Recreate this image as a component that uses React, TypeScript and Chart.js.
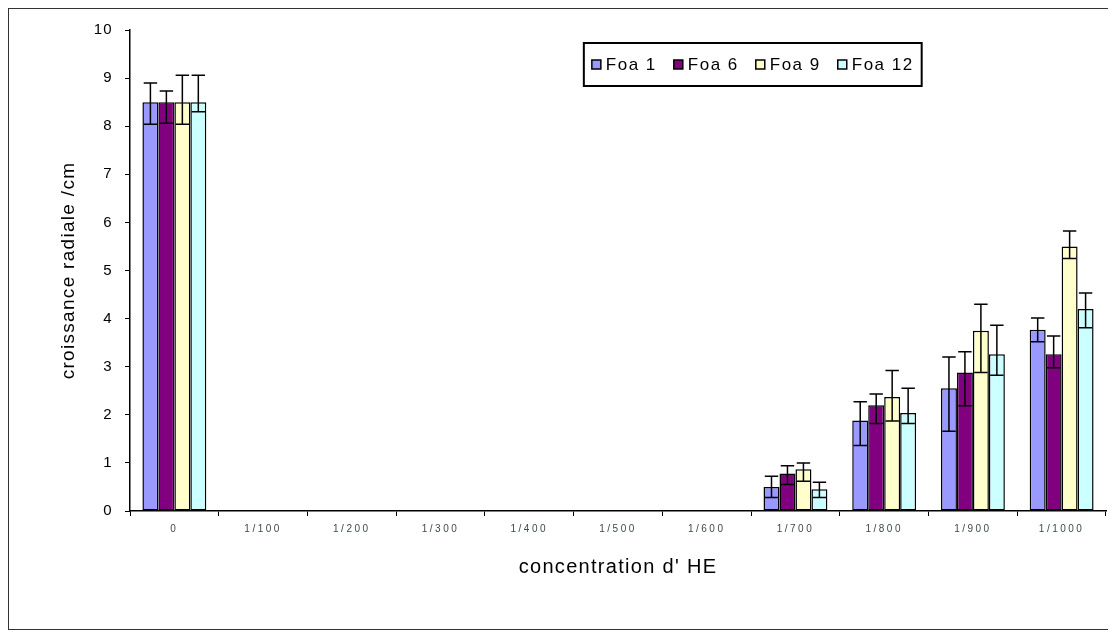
import React, { useEffect, useRef } from 'react';
import { Chart, registerables, CategoryScale } from 'chart.js';

Chart.register(...registerables);

const FONT = "'Liberation Sans', Arial, sans-serif";

const categories = ['0', '1/100', '1/200', '1/300', '1/400', '1/500', '1/600', '1/700', '1/800', '1/900', '1/1000'];
const seriesNames = ['Foa 1', 'Foa 6', 'Foa 9', 'Foa 12'];
const seriesColors = ['#9999FF', '#800080', '#FFFFCC', '#CCFFFF'];

const foa1 = [8.5, 0, 0, 0, 0, 0, 0, 0.5, 1.88, 2.55, 3.77];
const foa1Hi = [8.9, null, null, null, null, null, null, 0.72, 2.27, 3.2, 4.01];
const foa1Lo = [8.04, null, null, null, null, null, null, 0.28, 1.36, 1.66, 3.52];

const foa6 = [8.5, 0, 0, 0, 0, 0, 0, 0.78, 2.2, 2.88, 3.26];
const foa6Hi = [8.73, null, null, null, null, null, null, 0.94, 2.43, 3.31, 3.64];
const foa6Lo = [8.06, null, null, null, null, null, null, 0.55, 1.82, 2.19, 2.98];

const foa9 = [8.5, 0, 0, 0, 0, 0, 0, 0.87, 2.37, 3.75, 5.5];
const foa9Hi = [9.06, null, null, null, null, null, null, 1.0, 2.92, 4.3, 5.82];
const foa9Lo = [8.04, null, null, null, null, null, null, 0.62, 1.87, 2.88, 5.25];

const foa12 = [8.5, 0, 0, 0, 0, 0, 0, 0.45, 2.04, 3.26, 4.2];
const foa12Hi = [9.06, null, null, null, null, null, null, 0.6, 2.55, 3.86, 4.53];
const foa12Lo = [8.3, null, null, null, null, null, null, 0.28, 1.82, 2.82, 3.81];

const yTicks = [0, 1, 2, 3, 4, 5, 6, 7, 8, 9, 10];
const xTitle = "concentration d' HE";
const yTitle = 'croissance radiale /cm';

// x tick labels are widely letter-spaced in the reference
const origDrawLabels = (CategoryScale.prototype as any).drawLabels;
(CategoryScale.prototype as any).drawLabels = function (area: any) {
  const ctx = this.ctx;
  const prev = ctx.letterSpacing;
  ctx.letterSpacing = '2.5px';
  origDrawLabels.call(this, area);
  ctx.letterSpacing = prev;
};

const spacingPlugin = {
  id: 'spacing',
  beforeDraw(chart: any) {
    chart.ctx.letterSpacing = '1.3px';
  },
};

const errorBars = {
  id: 'errorBars',
  afterDatasetsDraw(chart: any) {
    const ctx = chart.ctx;
    const y = chart.scales.y;
    chart.data.datasets.forEach((ds: any, i: number) => {
      const meta = chart.getDatasetMeta(i);
      meta.data.forEach((bar: any, j: number) => {
        const hi = ds.errHi[j];
        const lo = ds.errLo[j];
        if (hi == null || lo == null) return;
        const { x, width } = bar.getProps(['x', 'width'], true);
        const yh = y.getPixelForValue(hi);
        const yl = y.getPixelForValue(lo);
        const half = width * 0.42;
        ctx.save();
        ctx.strokeStyle = '#000';
        ctx.lineWidth = 1.5;
        ctx.beginPath();
        ctx.moveTo(x, yh);
        ctx.lineTo(x, yl);
        ctx.moveTo(x - half, yh);
        ctx.lineTo(x + half, yh);
        ctx.moveTo(x - half, yl);
        ctx.lineTo(x + half, yl);
        ctx.stroke();
        ctx.restore();
      });
    });
  },
};

const legendBox = {
  id: 'legendBox',
  afterDraw(chart: any) {
    const { ctx, chartArea } = chart;
    ctx.save();
    ctx.font = `17px ${FONT}`;
    ctx.letterSpacing = '1.5px';
    const sq = 9, gapSq = 5, gapItem = 17, padL = 8, padR = 8, h = 43;
    const widths = seriesNames.map((t) => ctx.measureText(t).width);
    const total = padL + widths.reduce((a, w) => a + sq + gapSq + w, 0) + gapItem * (seriesNames.length - 1) + padR;
    const x0 = chartArea.left + chartArea.width * 0.465;
    const y0 = chartArea.top + 13;
    ctx.fillStyle = '#fff';
    ctx.fillRect(x0, y0, total, h);
    ctx.lineWidth = 2;
    ctx.strokeStyle = '#000';
    ctx.strokeRect(x0, y0, total, h);
    let x = x0 + padL;
    const cy = y0 + h / 2;
    seriesNames.forEach((name, i) => {
      ctx.fillStyle = seriesColors[i];
      ctx.fillRect(x, cy - sq / 2, sq, sq);
      ctx.lineWidth = 1.5;
      ctx.strokeRect(x, cy - sq / 2, sq, sq);
      x += sq + gapSq;
      ctx.fillStyle = '#000';
      ctx.textBaseline = 'middle';
      ctx.textAlign = 'left';
      ctx.fillText(name, x, cy + 1);
      x += widths[i] + gapItem;
    });
    ctx.restore();
  },
};

export default function App() {
  const ref = useRef<HTMLCanvasElement | null>(null);

  useEffect(() => {
    if (!ref.current) return;
    const values = [foa1, foa6, foa9, foa12];
    const his = [foa1Hi, foa6Hi, foa9Hi, foa12Hi];
    const los = [foa1Lo, foa6Lo, foa9Lo, foa12Lo];
    const chart = new Chart(ref.current, {
      type: 'bar',
      data: {
        labels: categories,
        datasets: seriesNames.map((name, i) => ({
          label: name,
          data: values[i],
          errHi: his[i],
          errLo: los[i],
          backgroundColor: seriesColors[i],
          borderColor: '#000',
          borderWidth: 1.5,
          borderSkipped: false,
          categoryPercentage: 0.72,
          barPercentage: 1,
        })) as any,
      },
      options: {
        animation: false,
        responsive: false,
        maintainAspectRatio: false,
        layout: { padding: { left: 0, top: 18, right: 3, bottom: 0 } },
        plugins: {
          legend: { display: false },
          tooltip: { enabled: false },
        },
        scales: {
          x: {
            grid: { display: true, drawOnChartArea: false, offset: true, color: '#000', tickLength: 5, lineWidth: 1 },
            border: { color: '#000', width: 1.5 },
            ticks: {
              autoSkip: false,
              maxRotation: 0,
              minRotation: 0,
              padding: 7,
              color: '#3d4a4a',
              font: { family: FONT, size: 10 },
            },
            title: {
              display: true,
              text: xTitle,
              color: '#000',
              font: { family: FONT, size: 20 },
              padding: { top: 0, bottom: 50 },
            },
            afterFit: (s: any) => {
              s.height = 118;
            },
          },
          y: {
            min: 0,
            max: 10,
            afterBuildTicks: (s: any) => {
              s.ticks = yTicks.map((v) => ({ value: v }));
            },
            grid: { display: true, drawOnChartArea: false, color: '#000', tickLength: 5, lineWidth: 1 },
            border: { color: '#000', width: 1.5 },
            ticks: {
              padding: 12,
              color: '#000',
              font: { family: FONT, size: 15 },
            },
            title: {
              display: true,
              text: yTitle,
              color: '#000',
              font: { family: FONT, size: 19 },
              padding: { top: 48, bottom: 0 },
            },
            afterFit: (s: any) => {
              s.width = 121;
            },
          },
        },
      },
      plugins: [spacingPlugin, errorBars, legendBox],
    });
    return () => chart.destroy();
  }, []);

  return (
    <div style={{ width: 1100, height: 620, border: '1px solid #333', background: '#fff' }}>
      <canvas ref={ref} width={1100} height={620} style={{ display: 'block' }} />
    </div>
  );
}
